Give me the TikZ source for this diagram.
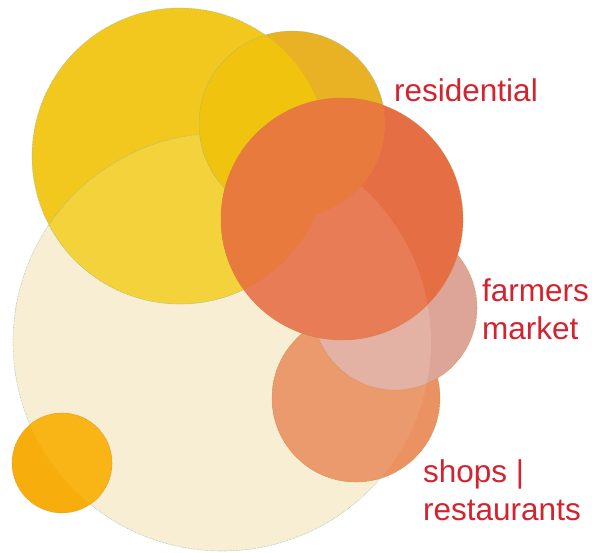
\documentclass[tikz,border=0pt]{standalone}
\usepackage{fontspec}
\setmainfont{Liberation Sans}
\definecolor{cream}{HTML}{F8EED4}
\definecolor{sun}{HTML}{F2C81E}
\definecolor{gold}{HTML}{E8B224}
\definecolor{ember}{HTML}{E56E45}
\definecolor{blush}{HTML}{DDA498}
\definecolor{peach}{HTML}{EA9262}
\definecolor{amber}{HTML}{F7AE0C}
\definecolor{creamsun}{HTML}{F4D23C}
\definecolor{goldsun}{HTML}{F0C30F}
\definecolor{ambercream}{HTML}{F9B515}
\definecolor{peachcream}{HTML}{EB9A6E}
\definecolor{blushcream}{HTML}{E3B2A5}
\definecolor{embercream}{HTML}{E87C56}
\definecolor{embersun}{HTML}{E87A3E}
\definecolor{inkred}{HTML}{D2232E}
\definecolor{rimteal}{HTML}{86B8A4}
\definecolor{rimrust}{HTML}{C98F3A}
\newcommand\bubCream{(222,342) circle (209pt)}
\newcommand\bubSun{(180,156) circle (148pt)}
\newcommand\bubGold{(292,124) circle (93pt)}
\newcommand\bubEmber{(342,219) circle (121pt)}
\newcommand\bubBlush{(395,308) circle (82pt)}
\newcommand\bubPeach{(356,398) circle (84pt)}
\newcommand\bubAmber{(62,463) circle (50pt)}
\begin{document}
\begin{tikzpicture}[x=1pt,y=-1pt,
  rimA/.style={draw=rimteal, line width=0.6pt, dash pattern=on 0.6pt off 0.9pt, opacity=0.8},
  rimB/.style={draw=rimrust, line width=0.6pt, dash pattern=on 0.6pt off 0.9pt, opacity=0.8},
  lbl/.style={anchor=base west, inner sep=0pt, align=left, text=inkred,
    font=\fontsize{31.5}{38}\selectfont}]
\useasboundingbox (0,0) rectangle (592,553);
% bubbles, each with its rim
\fill[cream] \bubCream;
\fill[sun] \bubSun;
\begin{scope} \clip \bubCream; \fill[creamsun] \bubSun; \end{scope}
\draw[rimA] \bubCream;
\draw[rimA] \bubSun;
\fill[gold] \bubGold;
\begin{scope} \clip \bubSun; \fill[goldsun] \bubGold; \end{scope}
\draw[rimA] \bubGold;
\fill[amber] \bubAmber;
\begin{scope} \clip \bubCream; \fill[ambercream] \bubAmber; \end{scope}
\draw[rimB] \bubAmber;
\fill[peach] \bubPeach;
\begin{scope} \clip \bubCream; \fill[peachcream] \bubPeach; \end{scope}
\draw[rimB] \bubPeach;
\fill[blush] \bubBlush;
\begin{scope} \clip \bubCream; \fill[blushcream] \bubBlush; \end{scope}
\draw[rimB] \bubBlush;
\fill[ember] \bubEmber;
\begin{scope} \clip \bubCream; \fill[embercream] \bubEmber; \end{scope}
\begin{scope} \clip \bubSun; \fill[embersun] \bubEmber; \end{scope}
\begin{scope} \clip \bubGold; \fill[embersun] \bubEmber; \end{scope}
\draw[rimB] \bubEmber;
% labels
\node[lbl] (resid) at (394,102) {residential};
\node[lbl] (farm) at (482,340) {farmers\\market};
\node[lbl] (shops) at (423,520) {shops |\\restaurants};
\end{tikzpicture}
\end{document}
